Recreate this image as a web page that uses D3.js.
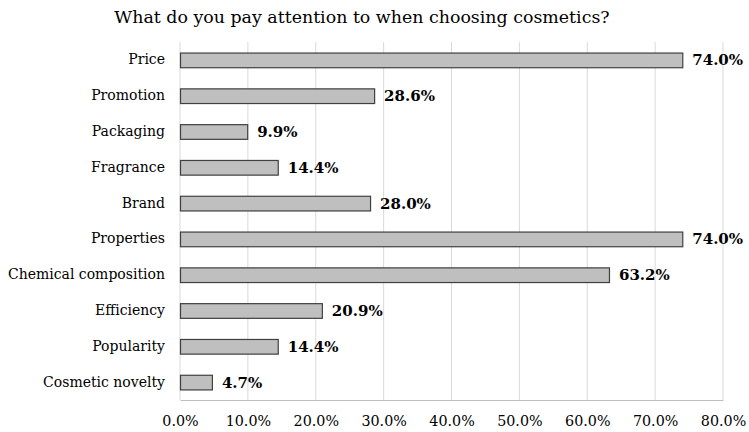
<!DOCTYPE html>
<html><head><meta charset="utf-8">
<script src="https://cdn.jsdelivr.net/npm/d3@7"></script>
<style>body{margin:0;background:#fff}svg{display:block}</style>
</head><body>
<svg id="c" width="749" height="432"></svg>
<script>
const categories = ["Price","Promotion","Packaging","Fragrance","Brand","Properties","Chemical composition","Efficiency","Popularity","Cosmetic novelty"];
const values = [74.0,28.6,9.9,14.4,28.0,74.0,63.2,20.9,14.4,4.7];
const ticks = [0,10,20,30,40,50,60,70,80];
const title = "What do you pay attention to when choosing cosmetics?";

const font = "'DejaVu Serif', Georgia, serif";
const svg = d3.select("#c");
const m = {l:180, r:26, t:42, b:32};
const W = 749, H = 432;
const x = d3.scaleLinear().domain([0,80]).range([m.l, W-m.r]);
const y = d3.scaleBand().domain(categories).range([m.t, H-m.b]).paddingInner(0.59).paddingOuter(0.295);

svg.append("text").attr("x",362).attr("y",23).attr("text-anchor","middle")
  .attr("font-family",font).attr("font-size",17.4).attr("fill","#000").text(title);

svg.append("g").selectAll("line").data(ticks).join("line")
  .attr("x1",d=>x(d)).attr("x2",d=>x(d)).attr("y1",m.t).attr("y2",H-m.b)
  .attr("stroke","#d9d9d9").attr("stroke-width",1);

const xa = svg.append("g").attr("transform",`translate(0,${H-m.b})`)
  .call(d3.axisBottom(x).tickValues(ticks).tickSize(0).tickPadding(16).tickFormat(d=>d3.format(".1f")(d)+"%"));
xa.select(".domain").attr("stroke","#bfbfbf");
xa.selectAll("text").attr("font-family",font).attr("font-size",14.3).attr("fill","#000");

const ya = svg.append("g").attr("transform",`translate(${m.l},0)`)
  .call(d3.axisLeft(y).tickSize(0).tickPadding(15));
ya.select(".domain").remove();
ya.selectAll("text").attr("font-family",font).attr("font-size",14).attr("fill","#000");

svg.append("g").selectAll("rect").data(categories).join("rect")
  .attr("x",x(0)+0.5).attr("y",d=>y(d)+0.5)
  .attr("width",(d,i)=>x(values[i])-x(0)).attr("height",y.bandwidth())
  .attr("fill","#bfbfbf").attr("stroke","#404040").attr("stroke-width",1.2);

svg.append("g").selectAll("text").data(categories).join("text")
  .attr("x",(d,i)=>x(values[i])+10).attr("y",d=>y(d)+y.bandwidth()/2).attr("dy","0.36em")
  .attr("font-family",font).attr("font-size",15).attr("font-weight","bold").attr("fill","#000")
  .text((d,i)=>d3.format(".1f")(values[i])+"%");
</script>
</body></html>
